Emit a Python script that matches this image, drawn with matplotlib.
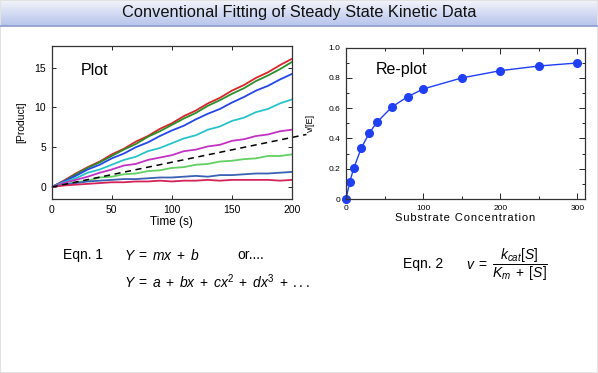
import numpy as np
import matplotlib
matplotlib.use("Agg")
import matplotlib.pyplot as plt
from matplotlib.colors import LinearSegmentedColormap
from matplotlib.lines import Line2D
from matplotlib.patches import Rectangle

plt.rcParams['font.family'] = ['Liberation Sans', 'DejaVu Sans']
plt.rcParams['mathtext.fontset'] = 'custom'
plt.rcParams['mathtext.rm'] = 'Liberation Sans'
plt.rcParams['mathtext.it'] = 'Liberation Sans:italic'

# Progress curves (left panel), read every 10 s
time_s = [0, 10, 20, 30, 40, 50, 60, 70, 80, 90, 100,
          110, 120, 130, 140, 150, 160, 170, 180, 190, 200]
red = [0, 0.8, 1.7, 2.5, 3.2, 4.1, 4.8, 5.7, 6.4, 7.3, 8.0,
       8.9, 9.6, 10.5, 11.2, 12.1, 12.8, 13.7, 14.4, 15.3, 16.1]
green = [0, 0.7, 1.6, 2.4, 3.1, 3.9, 4.7, 5.4, 6.3, 7.0, 7.8,
         8.6, 9.3, 10.2, 10.9, 11.7, 12.4, 13.3, 14.0, 14.8, 15.7]
blue = [0, 0.7, 1.4, 2.2, 2.8, 3.6, 4.2, 5.0, 5.6, 6.4, 7.1,
        7.7, 8.5, 9.2, 9.8, 10.6, 11.3, 12.1, 12.7, 13.5, 14.2]
cyan = [0, 0.6, 1.1, 1.8, 2.2, 2.8, 3.4, 3.8, 4.5, 4.9, 5.5,
        6.1, 6.5, 7.2, 7.6, 8.3, 8.7, 9.4, 9.8, 10.5, 11.0]
magenta = [0, 0.5, 0.9, 1.3, 1.8, 2.2, 2.7, 2.9, 3.4, 3.7, 4.0,
           4.5, 4.7, 5.1, 5.3, 5.8, 6.0, 6.4, 6.6, 7.0, 7.2]
ltgreen = [0, 0.3, 0.6, 0.8, 1.2, 1.3, 1.6, 1.7, 2.0, 2.1, 2.4,
           2.5, 2.8, 2.9, 3.2, 3.3, 3.5, 3.6, 3.9, 3.9, 4.1]
steel = [0, 0.3, 0.5, 0.7, 0.8, 0.9, 1.0, 1.0, 1.1, 1.2, 1.2,
         1.3, 1.4, 1.3, 1.5, 1.5, 1.6, 1.7, 1.7, 1.8, 1.9]
crimson = [0, 0.2, 0.3, 0.4, 0.5, 0.6, 0.6, 0.7, 0.7, 0.8, 0.7,
           0.8, 0.8, 0.9, 0.8, 0.9, 0.9, 0.9, 0.9, 0.8, 0.9]
curves = [red, green, blue, cyan, magenta, ltgreen, steel, crimson]
curve_colors = ['#d8262a', '#2a8f2a', '#2446e6', '#27c3c9',
                '#c232c2', '#62d062', '#3a62b4', '#d42358']

# dashed initial-rate line
dash_t = [0, 212]
dash_y = [0, 6.6]

# Re-plot (right panel)
substrate = [0, 5, 10, 20, 30, 40, 60, 80, 100, 150, 200, 250, 300]
rate = [0, 0.115, 0.203, 0.339, 0.434, 0.507, 0.61, 0.676, 0.727,
        0.80, 0.848, 0.879, 0.899]

W, H = 598, 373


def fx(x):
    return x / W


def fy(y):
    return 1 - y / H


def spaced(s):
    # mimic the letter-spaced axis label of the original slide
    return '\u200a'.join(s)


fig = plt.figure(figsize=(W / 100, H / 100), dpi=100)
fig.patch.set_facecolor('white')
fig.add_artist(Rectangle((0, 0), 1, 1, transform=fig.transFigure,
                         fill=False, ec='#e2e2e2', lw=1.5))

# title bar
bar = fig.add_axes([0, fy(26), 1, 26 / H])
grad = np.linspace(0, 1, 60).reshape(-1, 1)
cmap = LinearSegmentedColormap.from_list('bar', ['#f3f5fb', '#b6c3eb'])
bar.imshow(grad, aspect='auto', cmap=cmap, extent=[0, 1, 0, 1], origin='upper')
bar.axis('off')
fig.add_artist(Line2D([0, 1], [fy(26), fy(26)], transform=fig.transFigure,
                      color='#8c9bd0', lw=1.2))
fig.text(0.5, fy(13), 'Conventional Fitting of Steady State Kinetic Data',
         ha='center', va='center', fontsize=11.8, color='#111111')

# left panel
ax1 = fig.add_axes([fx(51.7), fy(199), (292 - 51.7) / W, (199 - 46) / H])
for vals, c in zip(curves, curve_colors):
    ax1.plot(time_s, vals, color=c, lw=1.3)
ax1.plot(dash_t, dash_y, color='black', lw=1.1, dashes=(4, 3), clip_on=False)
ax1.set_xlim(0, 200)
ax1.set_ylim(-1.5, 17.7)
ax1.set_xticks([0, 50, 100, 150, 200])
ax1.set_yticks([0, 5, 10, 15])
ax1.tick_params(direction='in', top=True, right=True, labelsize=7.5,
                length=3, width=0.6, pad=4)
for s in ax1.spines.values():
    s.set_linewidth(0.9)
    s.set_color('#333333')
ax1.set_xlabel('Time (s)', fontsize=8.5, labelpad=1)
ax1.set_ylabel('[Product]', fontsize=7.5, labelpad=6)
ax1.text(0.122, 0.843, 'Plot', transform=ax1.transAxes, fontsize=11.5,
         va='center', ha='left')

# right panel
ax2 = fig.add_axes([fx(346), fy(199), (585 - 346) / W, (199 - 47.7) / H])
ax2.plot(substrate, rate, '-o', color='#1f3ff2', ms=5.5, lw=1.0, clip_on=False)
ax2.set_xlim(0, 310)
ax2.set_ylim(0, 1.0)
ax2.set_xticks([0, 100, 200, 300])
ax2.set_xticks([50, 150, 250], minor=True)
ax2.set_yticks([0, 0.2, 0.4, 0.6, 0.8, 1.0])
ax2.set_yticklabels(['0', '0.2', '0.4', '0.6', '0.8', '1.0'])
ax2.set_yticks([0.1, 0.3, 0.5, 0.7, 0.9], minor=True)
ax2.tick_params(which='both', direction='in', top=True, right=True,
                labelsize=6, width=0.6, pad=4)
ax2.tick_params(which='major', length=4)
ax2.tick_params(which='minor', length=2)
for s in ax2.spines.values():
    s.set_linewidth(0.9)
    s.set_color('#333333')
ax2.set_xlabel(spaced('Substrate Concentration'), fontsize=8, labelpad=1)
ax2.set_ylabel('v/[E]', fontsize=6.5, labelpad=10)
ax2.text(0.125, 0.853, 'Re-plot', transform=ax2.transAxes, fontsize=11.5,
         va='center', ha='left')

# equations
fig.text(fx(63), fy(255), 'Eqn. 1', fontsize=10, va='center')
fig.text(fx(124), fy(255), r'$Y \;=\; mx \;+\; b$', fontsize=10, va='center')
fig.text(fx(237), fy(255), 'or....', fontsize=10, va='center')
fig.text(fx(124), fy(282), r'$Y \;=\; a \;+\; bx \;+\; cx^2 \;+\; dx^3 \;+\; ...$',
         fontsize=10, va='center')
fig.text(fx(403), fy(264), 'Eqn. 2', fontsize=10, va='center')
fig.text(fx(466), fy(265), r'$v \;=\; \dfrac{k_{cat}[S]}{K_m \;+\; [S]}$',
         fontsize=10, va='center')

fig.savefig('out.png', dpi=100)
